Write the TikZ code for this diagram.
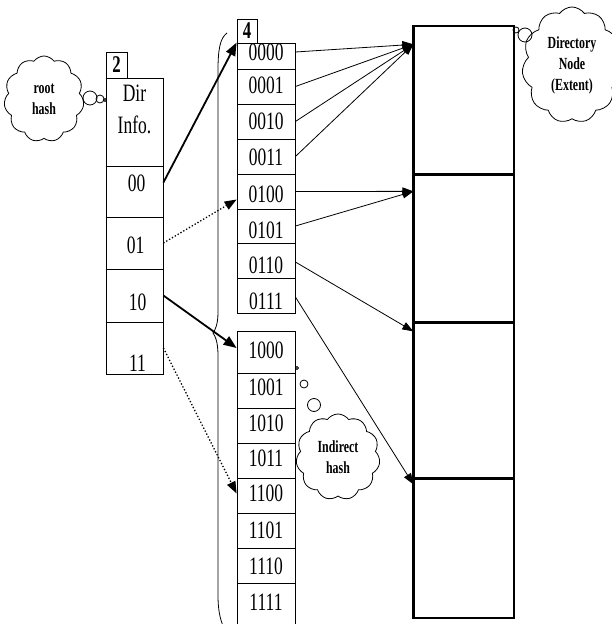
\documentclass[tikz,border=0pt]{standalone}
\usepackage{fontspec}
\setmainfont{Liberation Serif}[FakeStretch=0.7]
\usetikzlibrary{arrows.meta,shapes.symbols}
\begin{document}
\begin{tikzpicture}[x=1pt,y=-1pt,
  cell/.style={draw, line width=0.8pt, inner sep=0pt, minimum width=57pt},
  mcell/.style={draw, line width=0.8pt, inner sep=0pt, minimum width=58pt},
  rcell/.style={draw, line width=1.3pt, inner sep=0pt, minimum width=100pt},
  lbl/.style={font=\fontsize{25}{27}\selectfont, inner sep=0pt},
  num/.style={draw, line width=0.8pt, inner sep=0pt, font=\bfseries\fontsize{24}{26}\selectfont},
  thought/.style={cloud, draw, line width=0.8pt, cloud puffs=11, cloud puff arc=110, cloud ignores aspect, inner sep=0pt, align=center, font=\bfseries\fontsize{17}{21}\selectfont},
  bub/.style={circle, draw, line width=0.8pt, inner sep=0pt},
  bigarr/.style={line width=1.8pt, -{Triangle[length=13pt,width=10pt]}},
  dotarr/.style={line width=1.3pt, dotted, -{Triangle[length=12pt,width=9pt]}},
  thinarr/.style={line width=0.8pt, -{Triangle[length=11pt,width=8pt]}},
  divider/.style={line width=2pt}
]
\useasboundingbox (0,0) rectangle (611,624);

% left directory
\node[num, minimum width=21pt, minimum height=26pt] (two) at (116.5,65) {2};
\node[cell, minimum height=88pt, label={[lbl,yshift=29pt]center:Dir}, label={[lbl,yshift=-3pt]center:Info.}] (info) at (134.5,122) {};
\node[cell, minimum height=51pt, label={[lbl,yshift=8.5pt,xshift=2pt]center:00}] (c00) at (134.5,191.5) {};
\node[cell, minimum height=52pt, label={[lbl,yshift=-2pt,xshift=1pt]center:01}] (c01) at (134.5,243) {};
\node[cell, minimum height=53pt, label={[lbl,yshift=-6.5pt,xshift=3pt]center:10}] (c10) at (134.5,295.5) {};
\node[cell, minimum height=52pt, label={[lbl,yshift=-15pt,xshift=3pt]center:11}] (c11) at (134.5,348) {};

% middle table
\node[num, minimum width=20pt, minimum height=24pt] (four) at (247,31) {4};
\node[mcell, minimum height=26pt, label={[lbl,yshift=4pt]center:0000}] (m0000) at (266,56) {};
\node[mcell, minimum height=35pt, label={[lbl,yshift=1pt]center:0001}] (m0001) at (266,86.5) {};
\node[mcell, minimum height=35pt, label={[lbl]center:0010}] (m0010) at (266,121.5) {};
\node[mcell, minimum height=35pt, label={[lbl,yshift=-0.5pt]center:0011}] (m0011) at (266,156.5) {};
\node[mcell, minimum height=35pt, label={[lbl,yshift=-2.5pt]center:0100}] (m0100) at (266,191.5) {};
\node[mcell, minimum height=34pt, label={[lbl,yshift=-4pt]center:0101}] (m0101) at (266,226) {};
\node[mcell, minimum height=35pt, label={[lbl,yshift=-5pt]center:0110}] (m0110) at (266,260.5) {};
\node[mcell, minimum height=35pt, label={[lbl,yshift=-6pt]center:0111}] (m0111) at (266,295.5) {};

\node[mcell, minimum height=42pt, label={[lbl,yshift=2pt]center:1000}] (m1000) at (266,352) {};
\node[mcell, minimum height=35pt, label={[lbl,yshift=3pt]center:1001}] (m1001) at (266,390.5) {};
\node[mcell, minimum height=35pt, label={[lbl,yshift=2.5pt]center:1010}] (m1010) at (266,425.5) {};
\node[mcell, minimum height=35pt, label={[lbl,yshift=2.5pt]center:1011}] (m1011) at (266,460.5) {};
\node[mcell, minimum height=35pt, label={[lbl,yshift=2.5pt]center:1100}] (m1100) at (266,495.5) {};
\node[mcell, minimum height=35pt, label={[lbl,yshift=0.5pt]center:1101}] (m1101) at (266,530.5) {};
\node[mcell, minimum height=35pt, label={[lbl,yshift=-0.5pt]center:1110}] (m1110) at (266,565.5) {};
\node[mcell, minimum height=43pt, label={[lbl,yshift=2.5pt]center:1111}] (m1111) at (266,604.5) {};

% brace
\draw[line width=0.8pt] (227,33) .. controls (220,38) and (218,50) .. (218,70)
  -- (218,312) .. controls (218,325) and (215,330) .. (213,333)
  .. controls (215,336) and (218,341) .. (218,356)
  -- (218,595) .. controls (218,610) and (220,618) .. (223,626);

% right extent box
\node[rcell, minimum height=148pt] (r1) at (464,100) {};
\node[rcell, minimum height=148pt] (r2) at (464,248) {};
\node[rcell, minimum height=156pt] (r3) at (464,400) {};
\node[rcell, minimum height=140pt] (r4) at (464,548) {};
\draw[divider] (r1.south west) -- (r1.south east);
\draw[divider] (r2.south west) -- (r2.south east);
\draw[divider] (r3.south west) -- (r3.south east);
\draw[line width=1.8pt] (r1.north west) -- (r4.south west);

\coordinate (hit1) at ([yshift=-19pt]r1.north west);
\coordinate (hit2) at ([yshift=-18pt]r2.north west);
\coordinate (hit3) at ([yshift=-10pt]r3.north west);
\coordinate (hit4) at ([yshift=-7pt]r4.north west);

% arrows left -> middle
\draw[bigarr] ([yshift=9pt]c00.east) -- (m0000.north west);
\draw[dotarr] (c01.east) -- ([yshift=-8pt]m0100.west);
\draw[bigarr] (c10.east) -- ([yshift=4pt]m1000.west);
\draw[dotarr] (c11.east) -- ([yshift=2pt]m1100.west);

% arrows middle -> right
\draw[thinarr] ([yshift=4pt]m0000.east) -- (hit1);
\draw[thinarr] (m0001.east) -- (hit1);
\draw[thinarr] (m0010.east) -- (hit1);
\draw[thinarr] (m0011.east) -- (hit1);
\draw[thinarr] (m0100.east) -- (hit2);
\draw[thinarr] (m0101.east) -- (hit2);
\draw[thinarr] ([yshift=-1.5pt]m0110.east) -- (hit3);
\draw[thinarr] ([yshift=-1.5pt]m0111.east) -- (hit4);

% clouds
\node[thought, minimum width=80pt, minimum height=86pt] (rooth) at (44,99) {root\\hash};
\node[bub, minimum size=14pt] (rb1) at (90,98) {};
\node[bub, minimum size=8pt] (rb2) at (100,99) {};
\node[bub, minimum size=3pt] (rb3) at (105,100) {};

\node[thought, minimum width=84pt, minimum height=86pt] (indh) at (338,457) {Indirect\\hash};
\node[bub, minimum size=3pt] (ib1) at (297,368) {};
\node[bub, minimum size=8pt] (ib2) at (304,384) {};
\node[bub, minimum size=13pt] (ib3) at (314,405) {};

\node[thought, minimum width=100pt, minimum height=116pt] (dirn) at (572,65) {Directory\\Node\\(Extent)};
\node[bub, minimum size=6pt] (db1) at (516,30) {};
\node[bub, minimum size=14pt] (db2) at (525,35) {};
\end{tikzpicture}
\end{document}
